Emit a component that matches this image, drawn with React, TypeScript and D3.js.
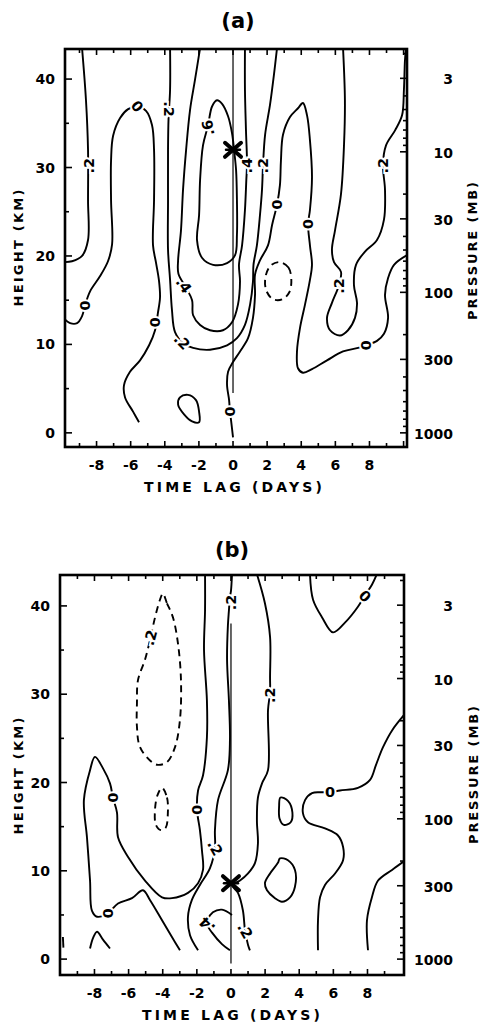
import React from "react";
import * as d3 from "d3";

type Pt = [number, number]; // [time lag (days), height (km)]

// ---------- shared axis values ----------
const lagLabels = [-8, -6, -4, -2, 0, 2, 4, 6, 8];
const heightLabels = [0, 10, 20, 30, 40];
const heightMinor = [5, 15, 25, 35];
const pressureLabels = [1000, 300, 100, 30, 10, 3];
const pressureMinor = [900, 800, 700, 600, 500, 400, 200, 90, 80, 70, 60, 50, 40, 20, 9, 8, 7, 6, 5, 4, 2];
const SCALE_HEIGHT_KM = 6.9;

// ---------- panel (a) contours ----------
const aWest2: Pt[] = [[-8.85, 43.5], [-8.62, 37.6], [-8.5, 32.0], [-8.5, 26.3], [-8.5, 21.8], [-8.85, 20.0], [-9.44, 19.4], [-9.95, 19.3]];
const aWest0: Pt[] = [[-9.95, 13.0], [-9.55, 12.4], [-9.14, 12.4], [-8.85, 13.2], [-8.68, 14.4], [-8.38, 16.0], [-7.8, 17.7], [-7.33, 19.4], [-7.09, 21.3], [-7.15, 26.3], [-7.15, 30.8], [-7.03, 33.6], [-6.62, 35.6], [-6.15, 36.6], [-5.63, 36.9], [-5.1, 36.4], [-4.75, 34.8], [-4.63, 32.0], [-4.63, 26.3], [-4.69, 21.2], [-4.51, 19.2], [-4.34, 17.2], [-4.28, 15.3], [-4.4, 13.6], [-4.57, 11.6], [-4.92, 9.9], [-5.45, 8.2], [-6.04, 6.9], [-6.39, 5.4], [-6.33, 4.0], [-5.86, 2.4], [-5.51, 1.2]];
const aMid2: Pt[] = [[-3.69, 43.5], [-3.69, 38.8], [-3.78, 35.5], [-3.81, 32.0], [-3.81, 26.3], [-3.81, 20.7], [-3.69, 17.3], [-3.58, 13.9], [-3.4, 11.4], [-2.9, 10.1], [-2.34, 9.6], [-1.35, 9.4], [-0.35, 9.9], [0.23, 10.7], [0.7, 12.2], [1.0, 14.5], [1.17, 17.1], [1.2, 19.0], [1.4, 21.2], [1.58, 24.6], [1.7, 27.5], [1.76, 30.3], [1.88, 33.7], [2.17, 37.1], [2.4, 40.5], [2.58, 43.5]];
const aMid4: Pt[] = [[-1.93, 43.5], [-2.23, 39.9], [-2.52, 36.5], [-2.75, 32.0], [-2.93, 27.5], [-3.05, 22.9], [-3.22, 19.5], [-3.2, 18.0], [-2.75, 16.4], [-2.4, 15.0], [-2.34, 13.3], [-1.93, 12.2], [-1.35, 11.6], [-0.59, 11.6], [-0.06, 12.5], [0.29, 14.5], [0.41, 17.1], [0.35, 19.0], [0.53, 21.2], [0.7, 25.2], [0.78, 28.6], [0.82, 30.5], [0.76, 34.2], [0.7, 38.8], [0.7, 43.5]];
const aMid6: Pt[] = [[-0.94, 37.6], [-1.23, 36.9], [-1.47, 34.7], [-1.76, 32.5], [-1.93, 28.6], [-1.99, 24.6], [-2.11, 21.8], [-1.82, 19.8], [-1.17, 19.0], [-0.35, 19.2], [0.12, 20.1], [0.23, 22.4], [0.23, 26.3], [0.18, 29.7], [0.06, 32.0], [-0.06, 33.9], [-0.29, 35.8], [-0.64, 37.2]];
const aEast0: Pt[] = [[0, -0.5], [-0.12, 1.5], [-0.18, 2.4], [-0.23, 3.7], [-0.35, 5.4], [-0.29, 6.9], [0, 8.0], [0.41, 9.2], [0.88, 10.7], [1.17, 13.0], [1.29, 15.6], [1.29, 17.9], [1.58, 19.5], [2.05, 21.2], [2.29, 23.5], [2.58, 25.8], [2.75, 28.0], [2.81, 30.8], [2.93, 33.7], [3.34, 35.7], [3.81, 36.7], [4.1, 37.3], [4.34, 35.9], [4.51, 33.1], [4.63, 28.9], [4.51, 25.2], [4.4, 23.6], [4.51, 21.2], [4.63, 19.0], [4.51, 17.3], [4.22, 14.5], [3.93, 11.9], [3.75, 9.2], [3.81, 7.3], [4.1, 6.8], [4.63, 7.2], [5.51, 8.2], [6.45, 9.2], [7.33, 9.6], [7.8, 9.9], [8.44, 10.4], [8.85, 11.2], [9.09, 13.0], [8.91, 15.6], [9.09, 17.5], [9.44, 19.0], [10.3, 20.2]];
const aEast2: Pt[] = [[6.45, 43.5], [6.56, 37.6], [6.51, 32.7], [6.33, 27.0], [5.98, 22.9], [5.8, 20.7], [5.92, 19.3], [6.33, 18.2], [6.21, 16.7], [5.8, 14.7], [5.51, 13.0], [5.69, 11.6], [6.27, 11.0], [6.74, 11.6], [7.15, 13.0], [7.27, 14.7], [7.09, 16.7], [7.21, 19.0], [7.74, 20.5], [8.44, 21.8], [8.85, 24.1], [8.91, 27.5], [8.79, 30.3], [8.97, 32.5], [9.5, 34.2], [9.91, 35.9], [10.02, 38.8], [10.08, 42.1], [10.14, 43.5]];
const aNegCell: Pt[] = [[3.42, 17.2], [3.25, 18.7], [2.75, 19.3], [2.2, 18.9], [1.9, 17.6], [1.95, 16.1], [2.35, 15.1], [2.9, 15.1], [3.3, 15.9]];
const aLowCell: Pt[] = [[-3.11, 4.0], [-2.64, 4.3], [-2.17, 3.7], [-1.99, 2.4], [-1.99, 1.2], [-2.4, 1.3], [-2.87, 2.1], [-3.22, 3.2]];
const aBase: Pt = [0, 32.0];
const aRefSpan = [4.5, 43.5];

const aLabels = [
  { t: ".2", at: [-8.47, 30.2] as Pt, r: -90 },
  { t: "0", at: [-5.63, 36.9] as Pt, r: 50 },
  { t: ".2", at: [-3.76, 36.6] as Pt, r: 90 },
  { t: ".6", at: [-1.45, 34.5] as Pt, r: -100 },
  { t: ".4", at: [0.82, 30.2] as Pt, r: -90 },
  { t: ".2", at: [1.76, 30.2] as Pt, r: -90 },
  { t: "0", at: [2.6, 25.8] as Pt, r: 90 },
  { t: "0", at: [4.42, 23.6] as Pt, r: 90 },
  { t: ".2", at: [8.8, 30.2] as Pt, r: -90 },
  { t: "0", at: [-8.68, 14.4] as Pt, r: 90 },
  { t: "0", at: [-4.57, 12.5] as Pt, r: 90 },
  { t: ".4", at: [-2.9, 16.7] as Pt, r: 55 },
  { t: ".2", at: [-3.0, 10.3] as Pt, r: 45 },
  { t: ".2", at: [6.2, 16.6] as Pt, r: -90 },
  { t: "0", at: [7.8, 9.9] as Pt, r: 90 },
  { t: "0", at: [-0.18, 2.4] as Pt, r: 90 },
];

// ---------- panel (b) contours ----------
const bWest0: Pt[] = [[-2.99, 1.0], [-3.46, 2.5], [-4.04, 4.4], [-4.75, 6.7], [-5.16, 7.8], [-5.8, 6.9], [-6.62, 6.3], [-7.21, 5.2], [-7.85, 4.8], [-8.15, 5.5], [-8.26, 8.9], [-8.44, 13.8], [-8.62, 18.0], [-8.26, 21.4], [-7.97, 22.9], [-7.5, 21.6], [-7.09, 19.9], [-6.92, 18.3], [-6.68, 16.6], [-6.62, 13.8], [-6.04, 11.6], [-5.04, 8.9], [-4.04, 7.0], [-3.46, 6.9], [-2.52, 7.5], [-1.93, 8.6], [-1.64, 10.1], [-1.7, 12.3], [-1.82, 14.6], [-1.99, 16.9], [-1.93, 19.1], [-1.64, 20.8], [-1.41, 25.1], [-1.41, 29.3], [-1.58, 35.0], [-1.52, 39.5], [-1.52, 43.6]];
const bNegLobe: Pt[] = [[-3.99, 41.4], [-3.75, 40.3], [-3.4, 38.7], [-3.11, 35.8], [-2.93, 31.6], [-2.99, 27.1], [-3.28, 24.0], [-3.75, 22.3], [-4.28, 22.0], [-4.63, 22.3], [-5.33, 24.0], [-5.51, 26.3], [-5.51, 29.0], [-5.45, 31.6], [-5.04, 33.9], [-4.75, 36.1], [-4.45, 38.7], [-4.16, 40.7]];
const bNegCell: Pt[] = [[-4.04, 19.4], [-3.75, 18.3], [-3.7, 16.5], [-3.82, 14.9], [-4.1, 14.6], [-4.4, 15.2], [-4.45, 17.0], [-4.3, 18.6]];
const bMid2: Pt[] = [[0.06, 43.6], [0, 41.7], [-0.06, 41.0], [-0.12, 39.5], [-0.18, 37.8], [-0.23, 33.9], [-0.12, 29.3], [-0.06, 24.8], [-0.18, 21.4], [-0.76, 18.0], [-0.94, 14.6], [-0.94, 12.6], [-1.23, 10.3], [-1.82, 8.4], [-2.29, 6.7], [-2.52, 4.8], [-2.4, 2.7], [-1.93, 1.0]];
const bEast2: Pt[] = [[1.52, 43.6], [1.99, 40.3], [2.29, 36.5], [2.29, 31.9], [2.29, 30.2], [2.17, 28.2], [2.17, 21.4], [1.82, 19.9], [1.58, 18.3], [1.52, 15.7], [1.58, 13.1], [1.41, 10.9], [1.0, 9.7], [0.53, 8.9], [0.06, 8.4], [0.41, 7.5], [0.7, 5.5], [0.82, 3.3], [1.0, 1.6], [1.11, 1.0]];
const bLow4: Pt[] = [[0.06, 5.0], [-0.53, 5.6], [-1.06, 5.3], [-1.35, 4.5], [-1.4, 3.9], [-1.11, 3.0], [-0.53, 1.7], [-0.06, 1.0]];
const bTop0: Pt[] = [[4.63, 43.6], [4.81, 40.7], [5.34, 38.7], [5.98, 37.0], [6.68, 38.1], [7.44, 39.9], [7.85, 41.2], [8.26, 42.4], [8.55, 43.6]];
const bEast0: Pt[] = [[10.3, 28.0], [9.44, 25.9], [8.91, 24.0], [8.5, 22.0], [8.15, 20.3], [7.44, 19.4], [6.39, 19.1], [5.8, 18.9], [5.22, 18.9], [4.75, 18.8], [4.34, 18.0], [4.22, 16.5], [4.51, 15.5], [5.51, 14.8], [6.27, 14.0], [6.57, 12.7], [6.57, 11.2], [6.1, 9.7], [5.51, 8.4], [5.22, 7.0], [5.1, 4.4], [5.1, 1.0]];
const bCellUpper: Pt[] = [[2.9, 18.3], [3.35, 17.9], [3.6, 16.6], [3.5, 15.5], [3.1, 15.2], [2.85, 15.9], [2.82, 17.3]];
const bCellLower: Pt[] = [[2.87, 11.4], [3.34, 11.2], [3.75, 10.1], [3.75, 8.2], [3.46, 7.0], [2.99, 6.5], [2.58, 6.9], [2.11, 7.8], [1.99, 8.6], [2.29, 9.7], [2.75, 10.9]];
const bFarEast: Pt[] = [[10.3, 11.3], [9.44, 10.1], [8.62, 8.9], [8.26, 7.0], [7.97, 4.4], [8.03, 1.0]];
const bWestCap: Pt[] = [[-8.26, 1.2], [-8.08, 2.4], [-7.85, 3.1], [-7.5, 2.2], [-7.09, 1.2]];
const bEdgeStub: Pt[] = [[-9.85, 2.5], [-9.82, 1.3]];
const bBase: Pt = [0, 8.6];
const bRefSpan = [-0.5, 38.0];

const bLabels = [
  { t: "0", at: [7.85, 41.1] as Pt, r: 45 },
  { t: ".2", at: [0, 40.4] as Pt, r: -90 },
  { t: ".2", at: [-4.72, 36.4] as Pt, r: -75 },
  { t: ".2", at: [2.29, 29.9] as Pt, r: -90 },
  { t: "0", at: [-6.92, 18.3] as Pt, r: 90 },
  { t: "0", at: [-1.99, 16.9] as Pt, r: 90 },
  { t: "0", at: [5.8, 18.9] as Pt, r: 0 },
  { t: ".2", at: [-0.94, 12.6] as Pt, r: 60 },
  { t: "0", at: [-7.21, 5.2] as Pt, r: 90 },
  { t: ".4", at: [-1.4, 3.9] as Pt, r: -135 },
  { t: ".2", at: [0.82, 3.2] as Pt, r: 60 },
];

type Contour = { pts: Pt[]; closed?: boolean; dashed?: boolean };

type PanelSpec = {
  id: string;
  title: string;
  left: number; right: number; top: number; bottom: number;
  lagDomain: [number, number];
  hDomain: [number, number];
  contours: Contour[];
  labels: { t: string; at: Pt; r: number }[];
  base: Pt;
  refSpan: number[];
  titleX: number; titleY: number;
  pressTitleX: number; pressTitleY: number;
  heightTitleY: number;
};

const panels: PanelSpec[] = [
  {
    id: "a", title: "(a)",
    left: 65, right: 407, top: 49, bottom: 447,
    lagDomain: [-9.85, 10.2], hDomain: [-1.6, 43.4],
    contours: [
      { pts: aWest2 }, { pts: aWest0 }, { pts: aMid2 }, { pts: aMid4 },
      { pts: aMid6, closed: true }, { pts: aEast0 }, { pts: aEast2 },
      { pts: aNegCell, closed: true, dashed: true }, { pts: aLowCell, closed: true },
    ],
    labels: aLabels, base: aBase, refSpan: aRefSpan,
    titleX: 238, titleY: 28, pressTitleX: 472, pressTitleY: 251, heightTitleY: 248,
  },
  {
    id: "b", title: "(b)",
    left: 60, right: 404, top: 575, bottom: 975,
    lagDomain: [-10.02, 10.14], hDomain: [-1.8, 43.5],
    contours: [
      { pts: bWest0 }, { pts: bNegLobe, closed: true, dashed: true },
      { pts: bNegCell, closed: true, dashed: true }, { pts: bMid2 }, { pts: bEast2 },
      { pts: bLow4 }, { pts: bTop0 }, { pts: bEast0 },
      { pts: bCellUpper, closed: true }, { pts: bCellLower, closed: true },
      { pts: bFarEast }, { pts: bWestCap }, { pts: bEdgeStub },
    ],
    labels: bLabels, base: bBase, refSpan: bRefSpan,
    titleX: 232, titleY: 557, pressTitleX: 473, pressTitleY: 775, heightTitleY: 776,
  },
];

const FONT = "'DejaVu Sans', 'Liberation Sans', Arial, sans-serif";
const zFromP = (p: number) => SCALE_HEIGHT_KM * Math.log(1000 / p);

function Panel({ p }: { p: PanelSpec }) {
  const x = d3.scaleLinear().domain(p.lagDomain).range([p.left, p.right]);
  const y = d3.scaleLinear().domain(p.hDomain).range([p.bottom, p.top]);
  const open = d3.line<Pt>().x((d) => x(d[0])).y((d) => y(d[1])).curve(d3.curveCatmullRom.alpha(0.5));
  const closed = d3.line<Pt>().x((d) => x(d[0])).y((d) => y(d[1])).curve(d3.curveCatmullRomClosed.alpha(0.5));
  const clipId = `clip-${p.id}`;
  const dayTicks = d3.range(Math.ceil(p.lagDomain[0] + 0.2), Math.floor(p.lagDomain[1] - 0.2) + 1);
  const [bx, by] = [x(p.base[0]), y(p.base[1])];
  const inH = (h: number) => h > p.hDomain[0] + 0.2 && h < p.hDomain[1] - 0.2;

  return (
    <g>
      <defs>
        <clipPath id={clipId}>
          <rect x={p.left} y={p.top} width={p.right - p.left} height={p.bottom - p.top} />
        </clipPath>
      </defs>
      <text x={p.titleX} y={p.titleY} textAnchor="middle" fontFamily={FONT} fontWeight="bold" fontSize={21}>
        {p.title}
      </text>

      <g clipPath={`url(#${clipId})`}>
        <line x1={x(0)} x2={x(0)} y1={y(p.refSpan[0])} y2={y(p.refSpan[1])} stroke="#000" strokeWidth={1.2} />
        {p.contours.map((c, i) => (
          <path
            key={i}
            d={(c.closed ? closed : open)(c.pts) || ""}
            fill="none"
            stroke="#000"
            strokeWidth={1.9}
            strokeLinejoin="round"
            strokeDasharray={c.dashed ? "7 5" : undefined}
          />
        ))}
        {p.labels.map((l, i) => (
          <text
            key={i}
            transform={`translate(${x(l.at[0])},${y(l.at[1])}) rotate(${l.r})`}
            textAnchor="middle"
            dominantBaseline="central"
            fontFamily={FONT}
            fontWeight="bold"
            fontSize={14.5}
            stroke="#fff"
            strokeWidth={4}
            paintOrder="stroke"
            fill="#000"
          >
            {l.t}
          </text>
        ))}
        <g stroke="#000" strokeLinecap="round">
          <line x1={bx - 8} y1={by - 7} x2={bx + 8} y2={by + 7} strokeWidth={4} />
          <line x1={bx - 8} y1={by + 7} x2={bx + 8} y2={by - 7} strokeWidth={4} />
          <line x1={bx - 7} y1={by} x2={bx + 7} y2={by} strokeWidth={2.5} />
        </g>
      </g>

      <rect x={p.left} y={p.top} width={p.right - p.left} height={p.bottom - p.top} fill="none" stroke="#000" strokeWidth={2.6} />

      <g stroke="#000" strokeWidth={1.6}>
        {dayTicks.map((d) => {
          const len = d % 2 === 0 ? 6 : 4;
          return (
            <g key={`d${d}`}>
              <line x1={x(d)} x2={x(d)} y1={p.top} y2={p.top + len} />
              <line x1={x(d)} x2={x(d)} y1={p.bottom} y2={p.bottom - len} />
            </g>
          );
        })}
        {heightLabels.filter(inH).map((h) => (
          <line key={`h${h}`} x1={p.left} x2={p.left + 7} y1={y(h)} y2={y(h)} />
        ))}
        {heightMinor.filter(inH).map((h) => (
          <line key={`hm${h}`} x1={p.left} x2={p.left + 4} y1={y(h)} y2={y(h)} />
        ))}
        {pressureLabels.map((pr) => zFromP(pr)).filter(inH).map((z, i) => (
          <line key={`p${i}`} x1={p.right} x2={p.right - 7} y1={y(z)} y2={y(z)} />
        ))}
        {pressureMinor.map((pr) => zFromP(pr)).filter(inH).map((z, i) => (
          <line key={`pm${i}`} x1={p.right} x2={p.right - 4} y1={y(z)} y2={y(z)} />
        ))}
      </g>

      <g fontFamily={FONT} fontWeight="bold" fontSize={14} fill="#000">
        {lagLabels.map((d) => (
          <text key={`lx${d}`} x={x(d)} y={p.bottom + 23} textAnchor="middle">
            {d === 0 ? "0" : d < 0 ? `-${Math.abs(d)}` : `${d}`}
          </text>
        ))}
        {heightLabels.map((h) => (
          <text key={`ly${h}`} x={p.left - 10} y={y(h)} textAnchor="end" dominantBaseline="central">
            {h}
          </text>
        ))}
        {pressureLabels.map((pr) => (
          <text key={`lp${pr}`} x={453} y={y(zFromP(pr)) + 1} textAnchor="end" dominantBaseline="central">
            {pr}
          </text>
        ))}
        <text x={x(0)} y={p.bottom + 45} textAnchor="middle" textLength={178} lengthAdjust="spacing">
          TIME LAG (DAYS)
        </text>
        <text
          transform={`translate(18,${p.heightTitleY}) rotate(-90)`}
          textAnchor="middle"
          dominantBaseline="central"
          fontSize={13}
          textLength={117}
          lengthAdjust="spacing"
        >
          HEIGHT (KM)
        </text>
        <text
          transform={`translate(${p.pressTitleX},${p.pressTitleY}) rotate(-90)`}
          textAnchor="middle"
          dominantBaseline="central"
          fontSize={13}
          textLength={138}
          lengthAdjust="spacing"
        >
          PRESSURE (MB)
        </text>
      </g>
    </g>
  );
}

export default function App() {
  return (
    <svg
      width={480}
      height={1023}
      viewBox="0 0 480 1023"
      style={{ position: "absolute", left: 0, top: 0, background: "#fff" }}
    >
      <rect width={480} height={1023} fill="#fff" />
      {panels.map((p) => (
        <Panel key={p.id} p={p} />
      ))}
    </svg>
  );
}
